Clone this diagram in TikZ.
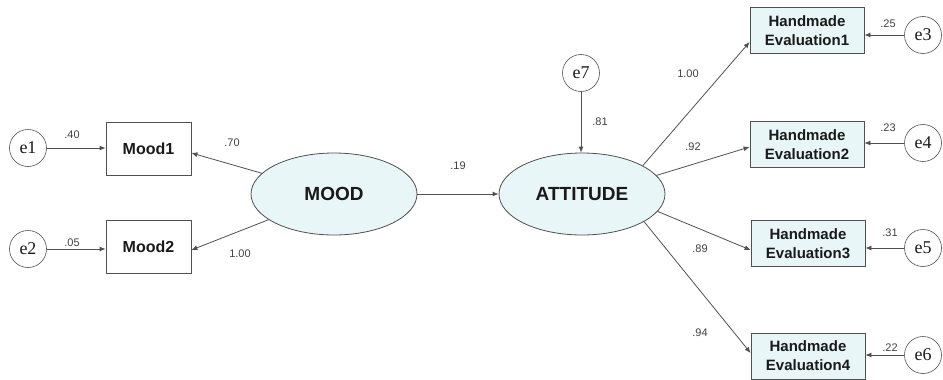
\documentclass[tikz,border=0pt]{standalone}
\usepackage{fontspec}
\setmainfont{Liberation Sans}
\newfontfamily\efont{Liberation Serif}
\usetikzlibrary{arrows.meta,shapes.geometric}
\definecolor{fillc}{HTML}{E8F6F8}
\definecolor{linec}{HTML}{505050}
\definecolor{labc}{HTML}{404040}
\definecolor{txtc}{HTML}{1A1A1A}
\begin{document}
\begin{tikzpicture}[x=1pt,y=-1pt,
  obs/.style={draw=linec, line width=0.8pt, minimum width=85pt, minimum height=53pt, text=txtc, font=\bfseries\fontsize{16}{16}\selectfont, inner sep=0},
  obsf/.style={draw=linec, fill=fillc, line width=0.8pt, minimum width=114pt, minimum height=46pt, text=txtc, font=\bfseries\fontsize{15}{19}\selectfont, align=center, inner sep=0},
  lat/.style={ellipse, draw=linec, fill=fillc, line width=0.8pt, minimum width=166pt, minimum height=82pt, text=txtc, font=\bfseries\fontsize{19}{19}\selectfont, inner sep=0},
  err/.style={circle, draw=linec, line width=0.6pt, minimum size=37pt, inner sep=0, text=txtc, font=\efont\fontsize{18}{18}\selectfont},
  arr/.style={draw=linec, line width=0.8pt, -{Latex[length=6pt,width=5pt]}},
  lab/.style={font=\fontsize{11}{11}\selectfont, text=labc, inner sep=0}
]
\useasboundingbox (0,0) rectangle (943,380);
% latent
\node[lat] (mood) at (334,194) {MOOD};
\node[lat] (att) at (582,194) {ATTITUDE};
% observed left
\node[obs] (m1) at (148.5,148.5) {Mood1};
\node[obs] (m2) at (148.5,247) {Mood2};
\node[err] (e1) at (28,148) {e1};
\node[err] (e2) at (28,249) {e2};
% observed right
\node[obsf] (he1) at (807,30.5) {Handmade\\Evaluation1};
\node[obsf] (he2) at (807,144.5) {Handmade\\Evaluation2};
\node[obsf] (he3) at (808,243.5) {Handmade\\Evaluation3};
\node[obsf] (he4) at (808,356) {Handmade\\Evaluation4};
\node[err] (e3) at (923,35) {e3};
\node[err] (e4) at (923,143) {e4};
\node[err] (e5) at (923,248) {e5};
\node[err] (e6) at (923,355) {e6};
\node[err] (e7) at (581,73) {e7};
% arrows
\draw[arr] (e1) -- (e1 -| m1.west);
\draw[arr] (e2) -- (e2 -| m2.west);
\draw[arr] (mood) -- ([yshift=-4.5pt]m1.east);
\draw[arr] (mood) -- ([yshift=-3pt]m2.east);
\draw[arr] (mood) -- (att);
\draw[arr] (e7) -- (e7 |- att.north);
\draw[arr] (att.25) -- ([yshift=-11.5pt]he1.west);
\draw[arr] (att.14) -- ([yshift=-2.5pt]he2.west);
\draw[arr] (att.-13) -- ([yshift=-6.5pt]he3.west);
\draw[arr] (att.-24) -- ([yshift=3pt]he4.west);
\draw[arr] (e3) -- (e3 -| he1.east);
\draw[arr] (e4) -- (e4 -| he2.east);
\draw[arr] (e5) -- (e5 -| he3.east);
\draw[arr] (e6) -- (e6 -| he4.east);
% labels
\node[lab] (l1) at (72,135) {.40};
\node[lab] (l2) at (72,243) {.05};
\node[lab] (l3) at (232,143) {.70};
\node[lab] (l4) at (240,254) {1.00};
\node[lab] (l5) at (458,166) {.19};
\node[lab] (l6) at (600,122) {.81};
\node[lab] (l7) at (688,74) {1.00};
\node[lab] (l8) at (693,147) {.92};
\node[lab] (l9) at (700,249) {.89};
\node[lab] (l10) at (700,333) {.94};
\node[lab] (l11) at (888,24) {.25};
\node[lab] (l12) at (888,128) {.23};
\node[lab] (l13) at (890,233) {.31};
\node[lab] (l14) at (890,348) {.22};
\end{tikzpicture}
\end{document}
